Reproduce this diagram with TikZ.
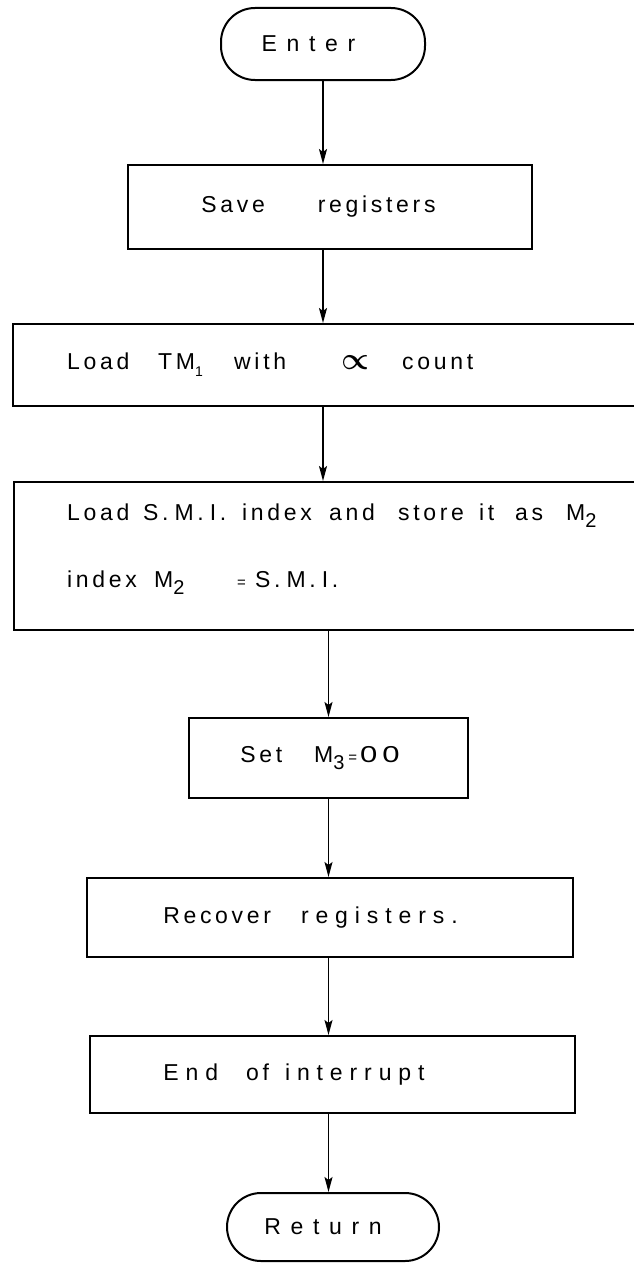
\documentclass[tikz,border=0pt]{standalone}
\usepackage{amsmath}
\usepackage{fontspec}
\setmainfont{Liberation Sans}
\newfontfamily\plainlet[LetterSpace=16]{Liberation Sans}
\newfontfamily\medlet[LetterSpace=30]{Liberation Sans}
\newfontfamily\widelet[LetterSpace=42]{Liberation Sans}
\usetikzlibrary{arrows.meta}
% lowered index digit, as in TM1, M2, M3
\newcommand{\lowidx}[2][20]{\raisebox{-0.55ex}{\fontsize{#1}{#1}\selectfont #2}}
\newcommand{\smi}{S.\hspace{6pt}M.\hspace{6pt}I.}
% small equals sign
\newcommand{\smalleq}{{\fontsize{15}{15}\selectfont =}}
% a word placed at a given offset from the start of its line
\newcommand{\wordat}[2]{\makebox[0pt][l]{\hspace*{#1}#2}}

\begin{document}
\begin{tikzpicture}[x=1pt,y=-1pt,
  every node/.style={font=\plainlet\fontsize{23}{27}\selectfont},
  stepbox/.style={draw, line width=2pt, rectangle, inner sep=0pt},
  terminal/.style={draw, line width=2pt, rectangle, rounded corners=34pt, inner sep=0pt},
  flow/.style={-{Stealth[length=15pt,width=8pt,inset=3pt]}, line width=1.6pt}]

\useasboundingbox (0,0) rectangle (634,1263);
\fill[white] (0,0) rectangle (634,1263);

% terminals and process boxes
\node[terminal, minimum width=204pt, minimum height=72pt] (enter) at (323,44)
  {{\widelet Enter}\hspace{29pt}\null};
\node[stepbox, minimum width=404pt, minimum height=84pt] (save) at (330,207)
  {Save\hspace{53pt}registers\hspace{23pt}\null};
% the two wide boxes run on past the right margin
\node[stepbox, minimum width=632pt, minimum height=82pt] (tm) at (329,365) {};
\node[stepbox, minimum width=632pt, minimum height=148pt] (smi) at (330,556) {};
\node[stepbox, minimum width=279pt, minimum height=80pt] (set) at (328.5,758)
  {Set\hspace{32pt}M\lowidx{3}\hspace{4pt}\smalleq\hspace{3pt}\scalebox{1.35}[1]{00}\hspace{17pt}\null};
\node[stepbox, minimum width=486pt, minimum height=79pt] (rec) at (330,917.5)
  {Recover\hspace{30pt}{\medlet registers.}\hspace{39pt}\null};
\node[stepbox, minimum width=485pt, minimum height=77pt] (eoi) at (332.5,1074.5)
  {{\medlet End}\hspace{28pt}of\hspace{16pt}{\medlet interrupt}\hspace{77pt}\null};
\node[terminal, minimum width=212pt, minimum height=68pt] (ret) at (333,1227)
  {{\widelet Return}\hspace{20pt}\null};

% texts set flush left inside the two wide boxes
\node[anchor=west, inner sep=0pt] (tmtext) at (67,365)
  {\wordat{0pt}{Load}\wordat{91pt}{TM\lowidx[14]{1}}\wordat{167pt}{with}%
   \wordat{274pt}{\scalebox{1.25}{$\boldsymbol{\propto}$}}\hspace*{335pt}count};
\node[anchor=west, inner sep=0pt] (smione) at (67,516)
  {\wordat{0pt}{Load}\wordat{76pt}{\smi}\wordat{175pt}{index}\wordat{262pt}{and}%
   \wordat{331pt}{store}\wordat{412pt}{it}\wordat{448pt}{as}\hspace*{499pt}M\lowidx{2}};
\node[anchor=west, inner sep=0pt] (smitwo) at (67,583)
  {\wordat{0pt}{index}\wordat{87pt}{M\lowidx{2}}\wordat{170pt}{\smalleq}\hspace*{188pt}\smi};

% connectors
\draw[flow] (enter.south) -- (enter.south |- save.north);
\draw[flow] (enter.south |- save.south) -- (enter.south |- tm.north);
\draw[flow] (enter.south |- tm.south) -- (enter.south |- smi.north);
\draw[flow] (smi.south -| set.north) -- (set.north);
\draw[flow] (set.south) -- (set.south |- rec.north);
\draw[flow] (rec.south -| set.north) -- (set.north |- eoi.north);
\draw[flow] (eoi.south -| set.north) -- (set.north |- ret.north);
\end{tikzpicture}
\end{document}
